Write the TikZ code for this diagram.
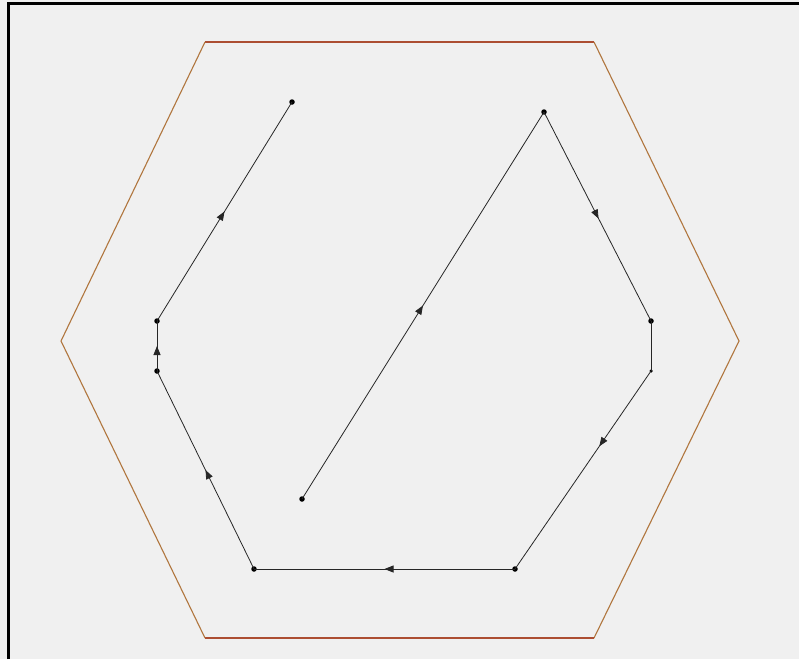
\documentclass[tikz,border=0pt]{standalone}
\usetikzlibrary{arrows.meta,decorations.markings}
\definecolor{bg}{RGB}{240,240,240}
\definecolor{hexside}{RGB}{176,118,62}
\definecolor{hextop}{RGB}{172,78,50}
\tikzset{
  seg/.style={draw=black!85, line width=0.8pt},
  pathseg/.style={seg,
    postaction={decorate, decoration={markings,
      mark=at position #1 with {\arrow{Triangle[length=9pt,width=7pt]}}}}},
  pathseg/.default=0.5,
  bigdot/.style={fill=black, circle, inner sep=0pt, minimum size=5.5pt},
  smalldot/.style={fill=black, circle, inner sep=0pt, minimum size=3.5pt},
  hexedge/.style={line width=1.1pt}
}
\begin{document}
\begin{tikzpicture}[x=1pt,y=-1pt]
\useasboundingbox (0,0) rectangle (799,659);
\fill[bg] (0,0) rectangle (799,659);
% frame
\draw[black, line width=3pt] (8.5,659) -- (8.5,3) -- (799,3);
% hexagon
\coordinate (h1) at (205,42);
\coordinate (h2) at (594,42);
\coordinate (h3) at (739,341);
\coordinate (h4) at (594,638);
\coordinate (h5) at (205,638);
\coordinate (h6) at (61,341);
\draw[hexedge, hextop] (h1) -- (h2);
\draw[hexedge, hexside] (h2) -- (h3) -- (h4);
\draw[hexedge, hextop] (h4) -- (h5);
\draw[hexedge, hexside] (h5) -- (h6) -- (h1);
% path points
\node[bigdot] (p0) at (302,499) {};
\node[bigdot] (p1) at (544,112) {};
\node[bigdot] (p2) at (651,321) {};
\node[smalldot] (p3) at (651,371) {};
\node[bigdot] (p4) at (515,569) {};
\node[bigdot] (p5) at (254,569) {};
\node[bigdot] (p6) at (157,371) {};
\node[bigdot] (p7) at (157,321) {};
\node[bigdot] (p8) at (292,102) {};
\draw[pathseg=0.5] (p0.center) -- (p1.center);
\draw[pathseg=0.51] (p1.center) -- (p2.center);
\draw[seg] (p2.center) -- (p3.center);
\draw[pathseg=0.38] (p3.center) -- (p4.center);
\draw[pathseg=0.5] (p4.center) -- (p5.center);
\draw[pathseg=0.5] (p5.center) -- (p6.center);
\draw[pathseg=0.5] (p6.center) -- (p7.center);
\draw[pathseg=0.5] (p7.center) -- (p8.center);
\end{tikzpicture}
\end{document}
